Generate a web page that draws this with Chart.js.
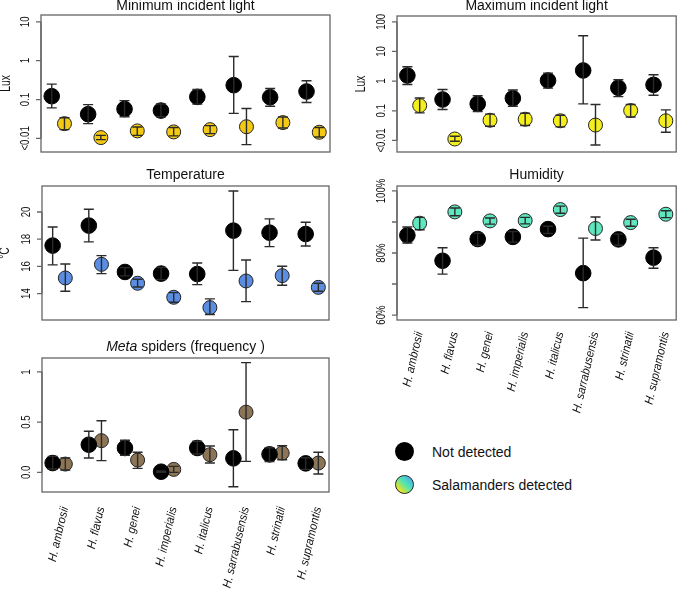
<!DOCTYPE html>
<html lang="en">
<head>
<meta charset="UTF-8">
<title>Microhabitat features</title>
<script src="https://cdn.jsdelivr.net/npm/chart.js@4"></script>
<style>
  body { margin: 0; background: #fff; font-family: 'Liberation Sans', Arial, sans-serif; }
  #wrap { position: relative; width: 685px; height: 591px; overflow: hidden; }
  canvas { position: absolute; }
  .leg { position: absolute; font-size: 14px; line-height: 16px; color: #111; }
  .dot { position: absolute; border-radius: 50%; box-sizing: border-box; }
</style>
</head>
<body>
<div id="wrap">
  <canvas id="c1" width="345" height="162" style="left:0;top:0"></canvas>
  <canvas id="c2" width="340" height="162" style="left:345px;top:0"></canvas>
  <canvas id="c3" width="345" height="170" style="left:0;top:160px"></canvas>
  <canvas id="c4" width="340" height="270" style="left:345px;top:160px"></canvas>
  <canvas id="c5" width="345" height="261" style="left:0;top:330px"></canvas>

  <div class="dot" style="left:395px;top:442px;width:19px;height:19px;background:#000"></div>
  <div class="leg" style="left:432px;top:444px">Not detected</div>
  <div class="dot" style="left:395px;top:475px;width:19px;height:19px;border:1px solid #222;
       background:linear-gradient(to top right,#f7e317 15%,#4fe6b2 55%,#4aa8f2 92%)"></div>
  <div class="leg" style="left:432px;top:477px">Salamanders detected</div>
</div>
<script>
const species = ['H. ambrosii', 'H. flavus', 'H. genei', 'H. imperialis',
                 'H. italicus', 'H. sarrabusensis', 'H. strinatii', 'H. supramontis'];

// minimum incident light (lux) - not detected / salamanders detected
const minNot   = [0.122, 0.042, 0.057, 0.052, 0.117, 0.234, 0.115, 0.161];
const minNotLo = [0.061, 0.024, 0.036, 0.036, 0.076, 0.044, 0.067, 0.084];
const minNotHi = [0.249, 0.074, 0.094, 0.077, 0.181, 1.28, 0.192, 0.303];
const minSal   = [0.024, 0.0105, 0.0156, 0.0147, 0.0168, 0.020, 0.0255, 0.0144];
const minSalLo = [0.0168, 0.0093, 0.012, 0.0116, 0.0133, 0.0069, 0.0186, 0.0109];
const minSalHi = [0.034, 0.012, 0.0197, 0.019, 0.0213, 0.0586, 0.0357, 0.019];

// maximum incident light (lux)
const maxNot   = [1.55, 0.24, 0.171, 0.266, 1.05, 2.29, 0.595, 0.75];
const maxNotLo = [0.77, 0.11, 0.094, 0.143, 0.58, 0.171, 0.30, 0.336];
const maxNotHi = [3.05, 0.52, 0.32, 0.50, 1.86, 34, 1.11, 1.64];
const maxSal   = [0.150, 0.0112, 0.048, 0.052, 0.046, 0.033, 0.102, 0.046];
const maxSalLo = [0.085, 0.0094, 0.030, 0.032, 0.0286, 0.0070, 0.062, 0.019];
const maxSalHi = [0.27, 0.0138, 0.077, 0.083, 0.071, 0.163, 0.163, 0.107];

// temperature (°C)
const tempNot   = [17.53, 19.0, 15.59, 15.47, 15.44, 18.63, 18.48, 18.38];
const tempNotLo = [16.11, 17.8, 15.30, 15.03, 14.66, 15.71, 17.45, 17.50];
const tempNotHi = [18.90, 20.2, 15.91, 15.93, 16.25, 21.54, 19.49, 19.24];
const tempSal   = [15.15, 16.15, 14.76, 13.73, 12.97, 14.93, 15.32, 14.46];
const tempSalLo = [14.17, 15.47, 14.49, 13.36, 12.46, 13.41, 14.61, 14.17];
const tempSalHi = [16.18, 16.79, 15.05, 14.07, 13.61, 16.47, 16.01, 14.76];

// humidity (%)
const humNot   = [85.7, 77.5, 84.5, 85.2, 87.7, 73.5, 84.4, 78.5];
const humNotLo = [83.2, 73.2, 82.5, 83.5, 86.3, 62.4, 82.5, 75.1];
const humNotHi = [88.4, 81.7, 86.4, 86.9, 88.6, 84.8, 86.1, 81.7];
const humSal   = [89.6, 93.25, 90.35, 90.46, 94.0, 87.9, 89.8, 92.5];
const humSalLo = [87.5, 92.0, 89.3, 89.4, 92.8, 84.2, 88.6, 91.4];
const humSalHi = [91.5, 94.5, 91.3, 91.5, 95.1, 91.6, 90.9, 93.6];

// Meta spiders (frequency)
const metaNot   = [0.093, 0.276, 0.243, 0.007, 0.243, 0.14, 0.18, 0.09];
const metaNotLo = [0.034, 0.143, 0.17, 0.0, 0.183, -0.142, 0.107, 0.03];
const metaNotHi = [0.16, 0.41, 0.32, 0.014, 0.31, 0.425, 0.246, 0.146];
const metaSal   = [0.083, 0.316, 0.123, 0.03, 0.176, 0.60, 0.193, 0.093];
const metaSalLo = [0.024, 0.117, 0.04, 0.0, 0.093, 0.11, 0.126, -0.016];
const metaSalHi = [0.143, 0.515, 0.20, 0.06, 0.263, 1.093, 0.266, 0.20];

const OFF = 0.175;

// R-like frame: box, rotated y labels, titles, species labels, error bars
const rFrame = {
  id: 'rFrame',
  beforeDatasetsDraw(chart) {
    const o = chart.options.plugins.rFrame;
    const ctx = chart.ctx, a = chart.chartArea, ys = chart.scales.y, xs = chart.scales.x;
    ctx.save();
    ctx.strokeStyle = '#666';
    ctx.lineWidth = 1.3;
    ctx.strokeRect(a.left, a.top, a.right - a.left, a.bottom - a.top);

    // y axis
    ctx.fillStyle = '#111';
    const tp = o.yTicks.map(v => ys.getPixelForValue(v));
    ctx.beginPath();
    ctx.moveTo(a.left, Math.min(...tp));
    ctx.lineTo(a.left, Math.max(...tp));
    tp.forEach(py => { ctx.moveTo(a.left, py); ctx.lineTo(a.left - 5, py); });
    ctx.stroke();
    ctx.font = '13px "Liberation Sans", Arial, sans-serif';
    tp.forEach((py, i) => {
      ctx.save();
      ctx.translate(a.left - 16, py);
      ctx.rotate(-Math.PI / 2);
      ctx.scale(0.74, 1);
      ctx.textAlign = 'center';
      ctx.textBaseline = 'middle';
      ctx.fillText(o.yLabels[i], 0, 0);
      ctx.restore();
    });
    if (o.yTitle) {
      ctx.save();
      ctx.font = '14px "Liberation Sans", Arial, sans-serif';
      ctx.translate(a.left - o.yTitleGap, (a.top + a.bottom) / 2);
      ctx.rotate(-Math.PI / 2);
      ctx.scale(0.74, 1);
      ctx.textAlign = 'center';
      ctx.textBaseline = 'middle';
      ctx.fillText(o.yTitle, 0, 0);
      ctx.restore();
    }

    // title
    ctx.font = '14px "Liberation Sans", Arial, sans-serif';
    ctx.textBaseline = 'middle';
    const cx = (a.left + a.right) / 2, ty = a.top - o.titleGap;
    if (o.titleItalic) {
      ctx.font = 'italic 14px "Liberation Sans", Arial, sans-serif';
      const w1 = ctx.measureText(o.titleItalic).width;
      ctx.font = '14px "Liberation Sans", Arial, sans-serif';
      const w2 = ctx.measureText(o.title).width;
      let x0 = cx - (w1 + w2) / 2;
      ctx.textAlign = 'left';
      ctx.font = 'italic 14px "Liberation Sans", Arial, sans-serif';
      ctx.fillText(o.titleItalic, x0, ty);
      ctx.font = '14px "Liberation Sans", Arial, sans-serif';
      ctx.fillText(o.title, x0 + w1, ty);
    } else {
      ctx.textAlign = 'center';
      ctx.fillText(o.title, cx, ty);
    }

    // species labels
    if (o.xLabels) {
      ctx.font = 'italic 12px "Liberation Sans", Arial, sans-serif';
      species.forEach((s, i) => {
        ctx.save();
        ctx.translate(xs.getPixelForValue(i) + 6, a.bottom + o.xLabGap);
        ctx.rotate(-77 * Math.PI / 180);
        ctx.scale(0.92, 1);
        ctx.textAlign = 'right';
        ctx.textBaseline = 'middle';
        ctx.fillText(s, 0, 0);
        ctx.restore();
      });
    }
    ctx.restore();
  },
  afterDatasetsDraw(chart) {
    const ctx = chart.ctx, ys = chart.scales.y, xs = chart.scales.x;
    ctx.save();
    ctx.strokeStyle = '#2a2a2a';
    ctx.lineWidth = 1.4;
    chart.data.datasets.forEach(ds => {
      ds.data.forEach((p, i) => {
        const x = xs.getPixelForValue(p.x);
        const y1 = ys.getPixelForValue(ds.lo[i]), y2 = ys.getPixelForValue(ds.hi[i]);
        ctx.beginPath();
        ctx.moveTo(x, y1); ctx.lineTo(x, y2);
        ctx.moveTo(x - 5, y1); ctx.lineTo(x + 5, y1);
        ctx.moveTo(x - 5, y2); ctx.lineTo(x + 5, y2);
        ctx.stroke();
      });
    });
    ctx.restore();
  }
};

function makePanel(id, cfg) {
  const ds = (vals, lo, hi, off, color, r) => ({
    data: vals.map((v, i) => ({ x: i + off, y: v })),
    lo: lo, hi: hi,
    pointRadius: r,
    backgroundColor: color,
    borderColor: color === '#000' ? '#000' : '#222',
    borderWidth: 1,
    showLine: false,
    clip: false
  });
  const yScale = { type: cfg.log ? 'logarithmic' : 'linear', min: cfg.yMin, max: cfg.yMax,
                   display: false, bounds: 'data' };
  new Chart(document.getElementById(id), {
    type: 'scatter',
    data: { datasets: [
      ds(cfg.not[0], cfg.not[1], cfg.not[2], -OFF, '#000', 7.8),
      ds(cfg.sal[0], cfg.sal[1], cfg.sal[2], OFF, cfg.color, 7)
    ] },
    options: {
      responsive: false,
      animation: false,
      events: [],
      layout: { padding: cfg.pad },
      scales: {
        x: { type: 'linear', min: -0.47, max: 7.47, display: false },
        y: yScale
      },
      plugins: {
        legend: { display: false },
        tooltip: { enabled: false },
        rFrame: cfg.frame
      }
    },
    plugins: [rFrame]
  });
}

makePanel('c1', {
  log: true, yMin: 0.00447, yMax: 14.96,
  not: [minNot, minNotLo, minNotHi], sal: [minSal, minSalLo, minSalHi], color: '#f3c913',
  pad: { left: 41, right: 15, top: 15, bottom: 10 },
  frame: { title: 'Minimum incident light', titleGap: 9, yTicks: [0.01, 0.1, 1, 10],
           yLabels: ['<0.01', '0.1', '1', '10'], yTitle: 'Lux', yTitleGap: 35 }
});
makePanel('c2', {
  log: true, yMin: 0.00408, yMax: 157,
  not: [maxNot, maxNotLo, maxNotHi], sal: [maxSal, maxSalLo, maxSalHi], color: '#f4ee1c',
  pad: { left: 52, right: 2, top: 16, bottom: 10 },
  frame: { title: 'Maximum incident light', titleGap: 10, yTicks: [0.01, 0.1, 1, 10, 100],
           yLabels: ['<0.01', '0.1', '1', '10', '100'], yTitle: 'Lux', yTitleGap: 36 }
});
makePanel('c3', {
  yMin: 12.06, yMax: 21.91,
  not: [tempNot, tempNotLo, tempNotHi], sal: [tempSal, tempSalLo, tempSalHi], color: '#5b8ee2',
  pad: { left: 42, right: 16, top: 26, bottom: 10 },
  frame: { title: 'Temperature', titleGap: 11, yTicks: [14, 16, 18, 20],
           yLabels: ['14', '16', '18', '20'], yTitle: '°C', yTitleGap: 37 }
});
makePanel('c4', {
  yMin: 58.4, yMax: 101.6,
  not: [humNot, humNotLo, humNotHi], sal: [humSal, humSalLo, humSalHi], color: '#5fe8c0',
  pad: { left: 52, right: 2, top: 26, bottom: 110 },
  frame: { title: 'Humidity', titleGap: 11, yTicks: [60, 70, 80, 90, 100],
           yLabels: ['60%', '', '80%', '', '100%'], xLabels: true, xLabGap: 12 }
});
makePanel('c5', {
  yMin: -0.195, yMax: 1.139,
  not: [metaNot, metaNotLo, metaNotHi], sal: [metaSal, metaSalLo, metaSalHi], color: '#8c7556',
  pad: { left: 42, right: 16, top: 28, bottom: 99 },
  frame: { titleItalic: 'Meta', title: ' spiders (frequency )', titleGap: 11, yTicks: [0, 0.5, 1],
           yLabels: ['0.0', '0.5', '1'], xLabels: true, xLabGap: 15 }
});
</script>
</body>
</html>
